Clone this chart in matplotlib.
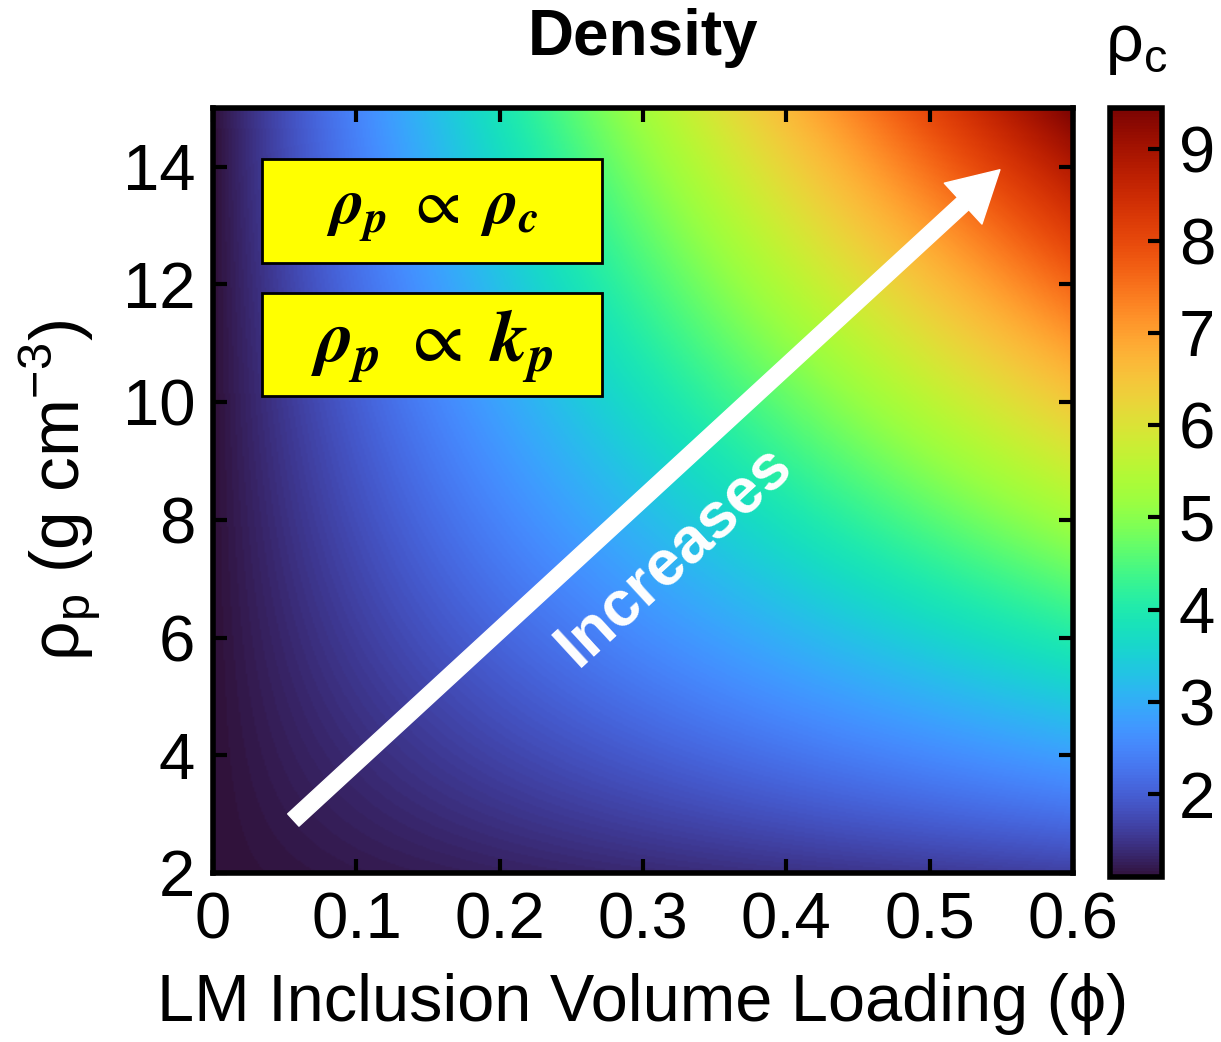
import numpy as np
import matplotlib
matplotlib.use("Agg")
import matplotlib.pyplot as plt
from matplotlib.patches import Rectangle

plt.rcParams['font.family'] = ['Liberation Sans', 'DejaVu Sans']

# Composite density from the rule of mixtures: rho_c = (1 - phi) * rho_m + phi * rho_p
rho_matrix = 1.1                      # matrix density (g cm^-3)
phi_range = [0.0, 0.6]                # LM inclusion volume loading
rho_p_range = [2.0, 15.0]             # inclusion density (g cm^-3)
x_ticks = [0, 0.1, 0.2, 0.3, 0.4, 0.5, 0.6]
x_ticklabels = ['0', '0.1', '0.2', '0.3', '0.4', '0.5', '0.6']
y_ticks = [2, 4, 6, 8, 10, 12, 14]
cbar_ticks = [2, 3, 4, 5, 6, 7, 8, 9]

phi = np.linspace(phi_range[0], phi_range[1], 500)
rho_p = np.linspace(rho_p_range[0], rho_p_range[1], 500)
PHI, RHO_P = np.meshgrid(phi, rho_p)
rho_c = (1 - PHI) * rho_matrix + PHI * RHO_P

fig = plt.figure(figsize=(12.21, 10.42), dpi=100)
ax = fig.add_axes([0.1745, 0.1622, 0.7043, 0.7342])
cax = fig.add_axes([0.9091, 0.1583, 0.0426, 0.7381])

im = ax.imshow(rho_c, origin='lower', aspect='auto', cmap='turbo',
               extent=[phi_range[0], phi_range[1], rho_p_range[0], rho_p_range[1]],
               interpolation='bilinear')

ax.set_xlim(*phi_range)
ax.set_ylim(*rho_p_range)
ax.set_xticks(x_ticks)
ax.set_xticklabels(x_ticklabels)
ax.set_yticks(y_ticks)
ax.tick_params(direction='in', length=10, width=3, labelsize=47,
               top=True, right=True, pad=13)
for s in ax.spines.values():
    s.set_linewidth(4)

ax.set_xlabel('LM Inclusion Volume Loading (ϕ)', fontsize=48, labelpad=16)
ax.set_ylabel(r'ρ$_\mathregular{p}$ (g cm$^\mathregular{-3}$)', fontsize=50, labelpad=14)
ax.set_title('Density', fontsize=46, fontweight='bold', pad=38)

# Proportionality boxes
box_style = dict(facecolor='#ffff00', edgecolor='black', linewidth=2)
ax.add_patch(Rectangle((0.0342, 12.37), 0.2372, 1.76, **box_style))
ax.add_patch(Rectangle((0.0342, 10.11), 0.2372, 1.75, **box_style))
ax.text(0.1528, 13.22, r'$\mathbfit{\rho_p}\ \propto\ \mathbfit{\rho_c}$', fontsize=47,
        ha='center', va='center', math_fontfamily='stix')
ax.text(0.1528, 10.95, r'$\mathbfit{\rho_p}\ \propto\ \mathbfit{k_p}$', fontsize=53,
        ha='center', va='center', math_fontfamily='stix')

# Trend arrow
ax.annotate('', xy=(0.549, 13.95), xytext=(0.056, 2.9),
            arrowprops=dict(arrowstyle='simple,head_length=36,head_width=40,tail_width=12',
                            mutation_scale=1, color='white', shrinkA=0, shrinkB=0))
ax.text(0.322, 7.4, 'Increases', fontsize=46, fontweight='bold', color='white',
        rotation=42.6, rotation_mode='anchor', ha='center', va='center')

cb = fig.colorbar(im, cax=cax, ticks=cbar_ticks)
cb.outline.set_linewidth(4)
cax.tick_params(direction='in', length=10, width=3, labelsize=47, pad=12)
cax.text(0.5, 1.04, r'ρ$_\mathregular{c}$', transform=cax.transAxes, fontsize=48,
         ha='center', va='bottom')

fig.savefig('out.png', dpi=100)
